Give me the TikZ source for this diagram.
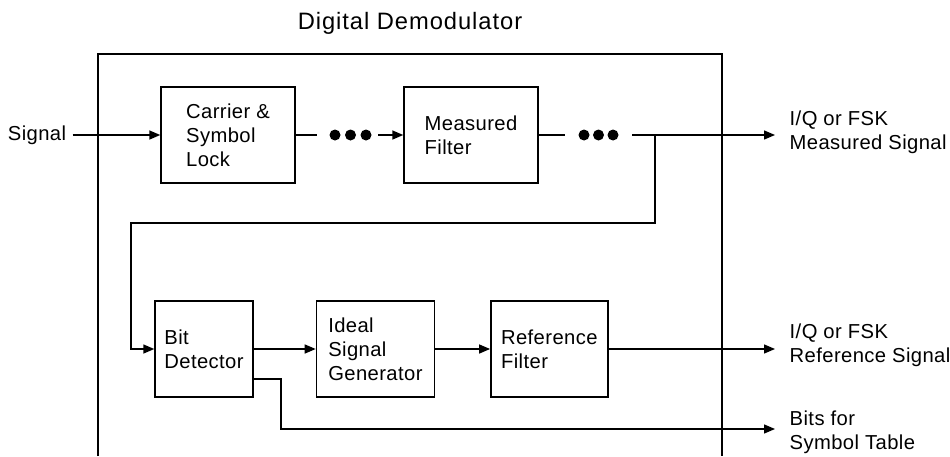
\documentclass[tikz,border=0pt]{standalone}
\usepackage{fontspec}
\setmainfont{Liberation Sans}[LetterSpace=2]
\usetikzlibrary{arrows.meta,positioning}
\begin{document}
\begin{tikzpicture}[>={Triangle[length=0.22cm,width=0.18cm]},font=\fontsize{11.5}{13.6}\selectfont,line width=0.8pt]
\tikzstyle{blk}=[draw,minimum height=1.92cm,align=left]
\tikzstyle{dot}=[circle,fill,inner sep=0pt,minimum size=0.22cm]
\tikzstyle{lbl}=[align=left,inner sep=0pt]
\useasboundingbox (0,0) rectangle (19,-9.12);
\node[font=\fontsize{13.5}{16}\selectfont\addfontfeatures{LetterSpace=4}] (title) at (8.2,-0.46) {Digital Demodulator};
\draw[line width=1.6pt] (1.96,-9.12) |- (14.44,-1.08) -- (14.44,-9.12);
\node[blk,minimum width=2.68cm] (lock) at (4.56,-2.70) {Carrier \&\\ Symbol\\ Lock};
\node[blk,minimum width=2.68cm] (meas) at (9.42,-2.70) {Measured\\ Filter};
\node[blk,minimum width=1.96cm] (bitdet) at (4.08,-6.98) {Bit\\ Detector};
\node[blk,minimum width=2.36cm,right=1.24cm of bitdet] (idealgen) {Ideal\\ Signal\\ Generator};
\node[blk,minimum width=2.34cm,right=1.1cm of idealgen] (reffilt) {Reference\\ Filter};
\node (sig) at (0.74,-2.70) {Signal};
\draw[->] (sig) -- (lock);
% dots between the filters
\coordinate (g1) at (6.34,-2.70);
\node[dot] (d1) at (6.70,-2.70) {};
\node[dot] (d2) at (7.01,-2.70) {};
\node[dot] (d3) at (7.32,-2.70) {};
\coordinate (g2) at (7.56,-2.70);
\draw (lock) -- (g1);
\draw[->] (g2) -- (meas);
\coordinate (g3) at (11.30,-2.70);
\node[dot] (d4) at (11.68,-2.70) {};
\node[dot] (d5) at (11.97,-2.70) {};
\node[dot] (d6) at (12.26,-2.70) {};
\coordinate (g4) at (12.64,-2.70);
\draw (meas) -- (g3);
% outputs
\coordinate (measout) at (15.5,-2.70);
\coordinate (refout) at (15.5,-6.98);
\coordinate (bitsout) at (15.5,-8.58);
\draw[->] (g4) -- (measout);
\coordinate (br) at (13.10,-2.70);
\coordinate (loop) at (2.62,-4.46);
\draw[->] (br) |- (loop) |- (bitdet.west);
\draw[->] (bitdet) -- (idealgen);
\draw[->] (idealgen) -- (reffilt);
\draw[->] (reffilt) -- (refout);
\coordinate (bitcorner) at (5.62,-7.58);
\draw[->] ([yshift=-0.6cm]bitdet.east) -- (bitcorner) |- (bitsout);
\node[lbl,right=0.28cm of measout,yshift=0.06cm] (measlbl) {I/Q or FSK\\ Measured Signal};
\node[lbl,right=0.28cm of refout,yshift=0.08cm] (reflbl) {I/Q or FSK\\ Reference Signal};
\node[lbl,right=0.28cm of bitsout,yshift=-0.06cm] (bitslbl) {Bits for\\ Symbol Table};
\end{tikzpicture}
\end{document}
